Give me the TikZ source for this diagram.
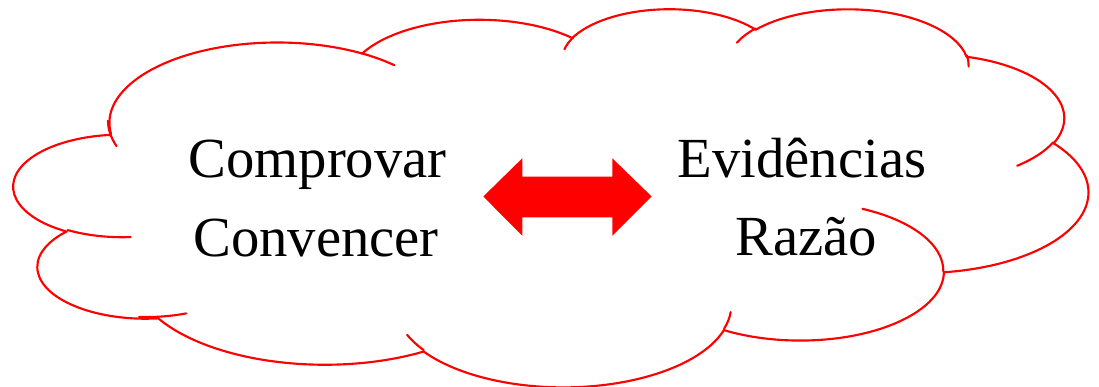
\documentclass[tikz,border=0pt]{standalone}
\usepackage{fontspec}
\setmainfont{Liberation Serif}
\definecolor{cloudred}{RGB}{255,0,0}
% arcTo in the DrawingML sense: wR, hR, start angle, sweep (visual angles)
\newcommand\ooarc[4]{%
  \pgfmathsetmacro\ooTa{atan2((#1)*sin(#3),(#2)*cos(#3))}%
  \pgfmathsetmacro\ooTb{atan2((#1)*sin((#3)+(#4)),(#2)*cos((#3)+(#4)))}%
  \pgfmathsetmacro\ooD{mod(mod(\ooTb-\ooTa,360)+360,360)}%
  \pgfmathsetmacro\ooD{(#4)<0 ? \ooD-360 : \ooD}%
  \pgfmathsetmacro\ooCx{\ooX-(#1)*cos(\ooTa)}%
  \pgfmathsetmacro\ooCy{\ooY-(#2)*sin(\ooTa)}%
  \draw[cloudline] (\ooX,\ooY) arc[start angle=\ooTa, delta angle=\ooD, x radius=#1, y radius=#2];%
  \pgfmathsetmacro\ooX{\ooCx+(#1)*cos(\ooTa+\ooD)}%
  \pgfmathsetmacro\ooY{\ooCy+(#2)*sin(\ooTa+\ooD)}%
}
\begin{document}
\begin{tikzpicture}[x=0.75pt,y=-0.75pt,
  cloudline/.style={draw=cloudred,line width=1.6pt,line cap=round},
  arrowshape/.style={fill=cloudred,draw=none},
  lbl/.style={font=\fontsize{42.5}{50}\selectfont,inner sep=0pt,anchor=base}]
\useasboundingbox (0,0) rectangle (1099,386);
\begin{scope}[xshift=10.5pt,yshift=-6pt,x=1.8646pt,y=-0.65625pt]
  \def\ooX{39.00}\def\ooY{143.70}
  \ooarc{67.53}{91.90}{-190.4875}{123.7805}
  \ooarc{53.33}{72.67}{-144.1024}{89.9452}
  \ooarc{43.65}{59.45}{-145.8079}{99.7230}
  \ooarc{48.57}{65.95}{-130.9861}{117.2417}
  \ooarc{53.33}{72.73}{-78.7089}{109.0269}
  \ooarc{67.75}{92.20}{-46.2673}{130.2690}
  \ooarc{57.85}{78.67}{0.6250}{114.0333}
  \ooarc{67.52}{92.15}{22.4516}{115.1726}
  \ooarc{77.20}{105.43}{66.2426}{75.7110}
  \ooarc{43.60}{59.18}{-274.9421}{146.7356}
  \ooarc{43.45}{59.45}{-246.8285}{152.5189}
  \draw[cloudline] (\ooX,\ooY) -- (39.00,143.70);
  % inner tails
  \def\ooX{46.93}\def\ooY{261.77}\ooarc{43.45}{59.45}{86.7420}{26.4295}
  \def\ooX{69.28}\def\ooY{348.99}\ooarc{43.60}{59.18}{73.6105}{19.1336}
  \def\ooX{164.78}\def\ooY{390.90}\ooarc{67.52}{92.15}{137.6242}{14.0728}
  \def\ooX{288.27}\def\ooY{347.51}\ooarc{67.52}{92.15}{6.4533}{15.9984}
  \def\ooX{341.29}\def\ooY{229.54}\ooarc{57.85}{78.67}{-70.2924}{70.9174}
  \def\ooX{417.98}\def\ooY{153.54}\ooarc{53.33}{72.73}{30.3180}{27.7515}
  \def\ooX{383.24}\def\ooY{54.26}\ooarc{48.57}{65.95}{-13.7443}{14.8501}
  \def\ooX{290.78}\def\ooY{39.52}\ooarc{48.57}{65.95}{-149.1815}{18.1959}
  \def\ooX{221.41}\def\ooY{47.20}\ooarc{43.65}{59.45}{-163.4943}{17.6908}
  \def\ooX{140.00}\def\ooY{51.92}\ooarc{67.53}{91.90}{-66.7070}{12.3194}
  \def\ooX{41.27}\def\ooY{157.89}\ooarc{67.53}{91.90}{155.6472}{24.3941}
\end{scope}
% double arrow
\fill[arrowshape] (483.3,196.5) -- (522.3,158.3) -- (522.3,176.7) -- (612.3,176.7)
  -- (612.3,158.3) -- (651.7,196.5) -- (612.3,235.7) -- (612.3,217.3)
  -- (522.3,217.3) -- (522.3,235.7) -- cycle;
% texts
\node[lbl] (l1) at (317.5,177.5) {Comprovar};
\node[lbl] (l2) at (316,256) {Convencer};
\node[lbl] (r1) at (802,177.5) {Evidências};
\node[lbl] (r2) at (806,255.5) {Razão};
\end{tikzpicture}
\end{document}
